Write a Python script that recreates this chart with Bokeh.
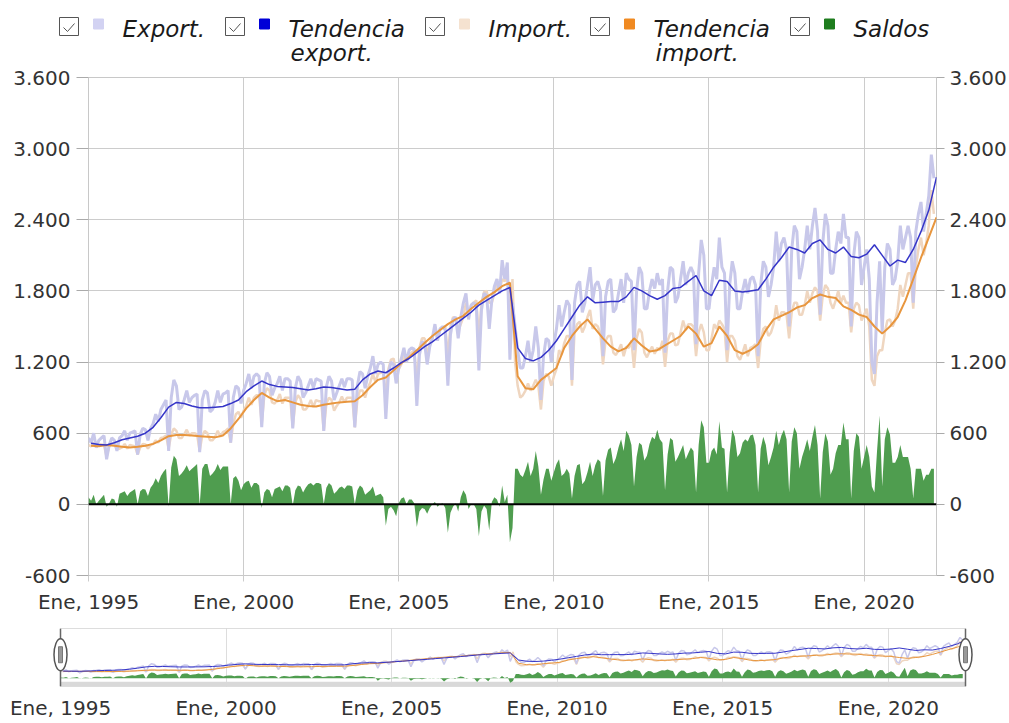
import numpy as np
from bokeh.plotting import figure
from bokeh.models import Range1d, FixedTicker, Span, LinearAxis
from bokeh.layouts import column
from bokeh.embed import file_html
from bokeh.resources import INLINE
from bokeh.core.properties import value

FONT = "DejaVu Sans"

# Monthly exports (Jan 1995 - Apr 2022), one row per year
export_monthly = [
    560, 520, 600, 480, 540, 560, 580, 380, 500, 560, 540, 450,          # 1995
    560, 580, 620, 540, 600, 610, 620, 420, 590, 640, 630, 540,          # 1996
    640, 680, 760, 700, 800, 840, 880, 450, 900, 1050, 1000, 800,        # 1997
    820, 880, 960, 860, 900, 920, 930, 440, 880, 960, 940, 780,          # 1998
    800, 860, 960, 860, 930, 940, 960, 520, 900, 1000, 980, 850,         # 1999
    960, 1020, 1100, 980, 1080, 1100, 1080, 650, 1020, 1110, 1080, 920,  # 2000
    980, 1020, 1080, 960, 1060, 1060, 1040, 640, 980, 1080, 1040, 900,   # 2001
    940, 1000, 1060, 980, 1060, 1050, 1040, 620, 990, 1080, 1040, 880,   # 2002
    940, 1000, 1060, 990, 1060, 1060, 1050, 650, 1000, 1120, 1100, 980,  # 2003
    1080, 1150, 1250, 1100, 1180, 1200, 1180, 720, 1100, 1200, 1180, 1020,   # 2004
    1150, 1230, 1320, 1200, 1300, 1320, 1310, 830, 1260, 1370, 1360, 1180,   # 2005
    1330, 1400, 1520, 1380, 1480, 1500, 1470, 1000, 1430, 1560, 1580, 1400,  # 2006
    1580, 1700, 1780, 1560, 1680, 1700, 1680, 1130, 1640, 1780, 1760, 1480,  # 2007
    1720, 1840, 1900, 1780, 2060, 1900, 2040, 1220, 1700, 1500, 1300, 1150,  # 2008
    1150, 1250, 1380, 1200, 1300, 1500, 1320, 880, 1250, 1400, 1380, 1200,   # 2009
    1350, 1480, 1680, 1500, 1620, 1720, 1680, 1050, 1700, 1850, 1880, 1620,  # 2010
    1700, 1850, 2000, 1720, 1850, 1880, 1800, 1250, 1750, 1880, 1900, 1620,  # 2011
    1650, 1780, 1900, 1700, 1950, 1900, 1880, 1300, 1800, 2000, 1950, 1650,  # 2012
    1650, 1800, 1900, 1820, 1950, 1850, 1900, 1280, 1800, 2000, 1980, 1700,  # 2013
    1750, 1900, 2050, 1850, 1950, 2000, 1950, 1350, 1950, 2230, 2100, 1650,  # 2014
    1650, 1850, 2000, 1900, 2250, 2000, 1950, 1300, 1850, 2050, 1950, 1650,  # 2015
    1650, 1800, 1900, 1780, 1900, 1920, 1850, 1250, 1850, 2050, 2000, 1750,  # 2016
    1850, 2000, 2300, 2050, 2200, 2250, 2150, 1500, 2150, 2350, 2300, 1900,  # 2017
    2000, 2150, 2350, 2150, 2350, 2500, 2300, 1600, 2200, 2450, 2350, 1950,  # 2018
    1950, 2150, 2300, 2200, 2450, 2250, 2250, 1500, 2100, 2300, 2250, 1850,  # 2019
    2000, 2150, 1900, 1200, 1100, 1700, 2050, 1450, 2000, 2200, 2150, 1850,  # 2020
    1900, 2050, 2350, 2150, 2250, 2350, 2250, 1700, 2300, 2450, 2550, 2300,  # 2021
    2450, 2600, 2950, 2750,                                                  # 2022
]

# Monthly imports (Jan 1995 - Apr 2022)
import_monthly = [
    500, 490, 520, 480, 510, 505, 500, 400, 490, 510, 500, 470,          # 1995
    470, 480, 510, 470, 500, 495, 490, 420, 480, 510, 505, 470,          # 1996
    500, 510, 540, 520, 560, 565, 580, 470, 590, 640, 620, 560,          # 1997
    560, 590, 630, 580, 600, 600, 590, 450, 580, 620, 600, 540,          # 1998
    540, 570, 620, 570, 610, 620, 640, 520, 680, 760, 780, 730,          # 1999
    790, 830, 900, 840, 900, 920, 920, 680, 920, 980, 960, 860,          # 2000
    850, 880, 930, 850, 900, 900, 900, 650, 860, 920, 890, 800,          # 2001
    800, 830, 880, 820, 880, 870, 870, 620, 850, 900, 880, 790,          # 2002
    830, 860, 910, 860, 900, 900, 900, 650, 880, 960, 960, 900,          # 2003
    980, 1030, 1100, 1030, 1100, 1110, 1120, 900, 1140, 1220, 1230, 1120,   # 2004
    1140, 1180, 1260, 1200, 1260, 1280, 1300, 1020, 1320, 1400, 1400, 1260,  # 2005
    1360, 1400, 1500, 1400, 1480, 1490, 1500, 1240, 1500, 1580, 1570, 1460,  # 2006
    1520, 1580, 1700, 1600, 1680, 1700, 1720, 1400, 1700, 1790, 1800, 1700,  # 2007
    1700, 1780, 1860, 1800, 1900, 1880, 1960, 1540, 1900, 1200, 1000, 900,   # 2008
    920, 960, 1020, 960, 1000, 1050, 1000, 800, 1040, 1100, 1080, 1000,      # 2009
    1080, 1140, 1300, 1260, 1360, 1420, 1420, 1000, 1460, 1520, 1540, 1450,  # 2010
    1500, 1580, 1640, 1480, 1520, 1500, 1440, 1180, 1380, 1420, 1420, 1280,  # 2011
    1260, 1300, 1350, 1250, 1330, 1320, 1380, 1150, 1400, 1480, 1450, 1280,  # 2012
    1240, 1290, 1330, 1270, 1320, 1300, 1380, 1160, 1380, 1440, 1440, 1340,  # 2013
    1350, 1450, 1550, 1470, 1520, 1520, 1500, 1250, 1450, 1520, 1450, 1300,  # 2014
    1300, 1400, 1520, 1480, 1550, 1520, 1480, 1200, 1420, 1420, 1380, 1250,  # 2015
    1220, 1280, 1350, 1250, 1320, 1330, 1350, 1150, 1380, 1480, 1500, 1420,  # 2016
    1450, 1520, 1680, 1550, 1620, 1620, 1600, 1400, 1620, 1700, 1700, 1600,  # 2017
    1600, 1680, 1800, 1700, 1780, 1830, 1800, 1550, 1760, 1850, 1820, 1700,  # 2018
    1650, 1720, 1800, 1700, 1760, 1700, 1700, 1450, 1650, 1700, 1680, 1550,  # 2019
    1600, 1650, 1500, 1050, 1000, 1250, 1300, 1300, 1450, 1550, 1560, 1500,  # 2020
    1550, 1650, 1850, 1750, 1850, 1950, 1950, 1650, 2000, 2150, 2250, 2100,  # 2021
    2200, 2350, 2650, 2450,                                                  # 2022
]

# Quarterly trend values (mid-quarter), 1995 Q1 ...
trend_export_q = [
    515, 505, 500, 520,   545, 560, 575, 600,   650, 730, 820, 860,
    850, 830, 815, 815,   820, 825, 850, 880,   950, 1000, 1040, 1010,
    995, 990, 985, 975,   965, 975, 990, 985,   975, 965, 970, 1050,
    1100, 1125, 1110, 1150,   1195, 1230, 1280, 1330,   1370, 1420, 1470, 1520,
    1570, 1620, 1680, 1720,   1760, 1800, 1830, 1320,   1230, 1210, 1240, 1300,
    1380, 1480, 1580, 1680,   1750, 1700, 1705, 1710,   1710, 1750, 1830, 1800,
    1760, 1730, 1760, 1820,   1830, 1880, 1930, 1800,   1760, 1890, 1880, 1800,
    1790, 1800, 1810, 1900,   2000, 2080, 2170, 2150,   2120, 2200, 2230, 2150,
    2120, 2170, 2090, 2080,   2110, 2190, 2100, 2010,   2060, 2040, 2150, 2300,
    2480, 2760,
]
trend_import_q = [
    495, 490, 500, 495,   485, 480, 485, 495,   510, 540, 575, 585,
    585, 580, 575, 570,   565, 580, 640, 720,   810, 880, 940, 900,
    870, 880, 860, 840,   830, 825, 840, 850,   860, 865, 870, 920,
    990, 1050, 1070, 1130,   1190, 1240, 1300, 1360,   1420, 1470, 1520, 1560,
    1590, 1650, 1700, 1750,   1790, 1840, 1870, 1080,   980, 970, 1050, 1100,
    1150, 1320, 1420, 1500,   1560, 1480, 1400, 1330,   1290, 1320, 1400, 1340,
    1290, 1300, 1340, 1380,   1420, 1500, 1440, 1330,   1360, 1500, 1420, 1300,
    1270, 1300, 1350, 1470,   1560, 1590, 1620, 1660,   1680, 1740, 1770, 1750,
    1740, 1670, 1640, 1600,   1580, 1500, 1440, 1500,   1580, 1720, 1900, 2080,
    2250, 2420,
]

x_ticks = [1995, 2000, 2005, 2010, 2015, 2020]
x_tick_labels = ["Ene, 1995", "Ene, 2000", "Ene, 2005", "Ene, 2010", "Ene, 2015", "Ene, 2020"]
y_ticks = [-600, 0, 600, 1200, 1800, 2400, 3000, 3600]
y_tick_labels = ["-600", "0", "600", "1.200", "1.800", "2.400", "3.000", "3.600"]

legend_labels = ["Export.", "Tendencia", "Import.", "Tendencia", "Saldos"]
legend_sublabels = ["", "export.", "", "import.", ""]

C_EXP = "#c8c8ea"
C_TEXP = "#3535c8"
C_IMP = "#efd6c0"
C_TIMP = "#e8963e"
C_SAL = "#4f9d4f"
legend_colors = ["#d2d2f2", "#0000d8", "#f5e2d0", "#f08a22", "#1e7d1e"]

exp = np.array(export_monthly, dtype=float)
imp = np.array(import_monthly, dtype=float)
sal = exp - imp
xm = 1995 + np.arange(len(exp)) / 12.0
tx = 1995 + (3 * np.arange(len(trend_export_q)) + 1) / 12.0
x_end = float(tx[-1])

W = 1009
LEG_H = 66

# ---------------- legend ----------------
leg = figure(width=W, height=LEG_H, x_range=Range1d(0, W), y_range=Range1d(LEG_H, 0),
             output_backend="svg", toolbar_location=None, min_border=0, frame_align=False,
             x_axis_location=None, y_axis_location=None, outline_line_color=None)
leg.grid.visible = False
cb_x = np.array([59, 225, 425, 590, 790], dtype=float)
leg.rect(x=cb_x + 9.5, y=26, width=19, height=18, fill_color="white", line_color="#555555", line_width=1)
leg.multi_line(xs=[[c + 4, c + 8, c + 15] for c in cb_x], ys=[[27, 31, 23]] * 5,
               line_color="#555555", line_width=1)
leg.rect(x=cb_x + 39, y=23.5, width=10, height=10, fill_color=legend_colors,
         line_color=legend_colors, line_width=1)
leg.text(x=cb_x + 63, y=28, text=legend_labels, text_font=value(FONT), text_font_style="italic",
         text_font_size="23px", text_color="#1a1a1a", text_baseline="alphabetic", text_align="left")
sub_idx = [i for i, s in enumerate(legend_sublabels) if s]
leg.text(x=cb_x[sub_idx] + 65, y=52, text=[legend_sublabels[i] for i in sub_idx], text_font=value(FONT),
         text_font_style="italic", text_font_size="23px", text_color="#1a1a1a",
         text_baseline="alphabetic", text_align="left")

# ---------------- main chart ----------------
p = figure(width=W, height=550, x_range=Range1d(1995, x_end), y_range=Range1d(-600, 3600),
           output_backend="svg", toolbar_location=None, frame_align=False,
           min_border_left=88, min_border_right=72, min_border_top=77 - LEG_H, min_border_bottom=40,
           outline_line_color="#c8c8c8")
p.add_layout(LinearAxis(), "right")
for i, ax in enumerate(p.yaxis):
    ax.ticker = FixedTicker(ticks=y_ticks)
    ax.major_label_overrides = dict(zip(y_ticks, y_tick_labels))
    ax.major_label_text_font = FONT
    ax.major_label_text_font_size = "20px"
    ax.major_label_text_color = "#333333"
    ax.axis_line_color = None
    ax.major_tick_line_color = "#aaaaaa"
    ax.major_tick_out = 12 if i == 0 else 8
    ax.major_tick_in = 0
    ax.minor_tick_line_color = None
    ax.major_label_standoff = 6 if i == 0 else 5
for ax in p.xaxis:
    ax.ticker = FixedTicker(ticks=x_ticks)
    ax.major_label_overrides = dict(zip(x_ticks, x_tick_labels))
    ax.major_label_text_font = FONT
    ax.major_label_text_font_size = "20px"
    ax.major_label_text_color = "#333333"
    ax.axis_line_color = None
    ax.major_tick_line_color = "#cccccc"
    ax.major_tick_out = 6
    ax.major_tick_in = 0
    ax.minor_tick_line_color = None
    ax.major_label_standoff = 8
p.xgrid.ticker = FixedTicker(ticks=x_ticks)
p.ygrid.ticker = FixedTicker(ticks=y_ticks)
p.grid.grid_line_color = "#cccccc"
p.grid.grid_line_width = 1

p.varea(x=xm, y1=0, y2=sal, fill_color=C_SAL, fill_alpha=1.0)
p.line(xm, imp, line_color=C_IMP, line_width=2.5)
p.line(xm, exp, line_color=C_EXP, line_width=3)
p.line(tx, trend_import_q, line_color=C_TIMP, line_width=2)
p.line(tx, trend_export_q, line_color=C_TEXP, line_width=1.5)
p.add_layout(Span(location=0, dimension="width", line_color="black", line_width=2))

# ---------------- navigator ----------------
PX_PER_YEAR = 905.0 / (x_end - 1995)
PAD = 12 / PX_PER_YEAR
nav = figure(width=W, height=106, x_range=Range1d(1995 - PAD, x_end + PAD),
             y_range=Range1d(-600, 3600), output_backend="svg", toolbar_location=None,
             frame_align=False,
             min_border_left=48, min_border_right=W - 48 - 929, min_border_top=12, min_border_bottom=34,
             y_axis_location=None, outline_line_color=None)
nav.ygrid.visible = False
nav.xgrid.ticker = FixedTicker(ticks=x_ticks)
nav.xgrid.grid_line_color = "#dddddd"
ax = nav.xaxis[0]
ax.ticker = FixedTicker(ticks=x_ticks)
ax.major_label_overrides = dict(zip(x_ticks, x_tick_labels))
ax.major_label_text_font = FONT
ax.major_label_text_font_size = "20px"
ax.major_label_text_color = "#333333"
ax.axis_line_color = None
ax.major_tick_line_color = None
ax.minor_tick_line_color = None
ax.major_label_standoff = 3

nav.quad(left=1995, right=x_end, bottom=-600, top=3600, fill_color=None, line_color="#bbbbbb")
nav.quad(left=1995, right=x_end, bottom=-600, top=-260, fill_color="#d9d9d9", line_color=None)
nav.varea(x=xm, y1=0, y2=sal, fill_color=C_SAL, fill_alpha=1.0)
nav.line(xm, imp, line_color=C_IMP, line_width=1.5)
nav.line(xm, exp, line_color=C_EXP, line_width=1.5)
nav.line(tx, trend_import_q, line_color=C_TIMP, line_width=1)
nav.line(tx, trend_export_q, line_color=C_TEXP, line_width=1)
nav.segment(x0=[1995, x_end], y0=-600, x1=[1995, x_end], y1=3600, line_color="#666666", line_width=1.5)
nav.ellipse(x=[1995, x_end], y=1700, width=13, height=32, width_units="screen", height_units="screen",
            fill_color="white", line_color="#555555", line_width=1.5)
nav.rect(x=[1995, x_end], y=1700, width=4, height=16, width_units="screen", height_units="screen",
         fill_color="#999999", line_color="#777777")

layout = column(leg, p, nav, spacing=0)
open("out.html", "w").write(file_html(layout, INLINE))
